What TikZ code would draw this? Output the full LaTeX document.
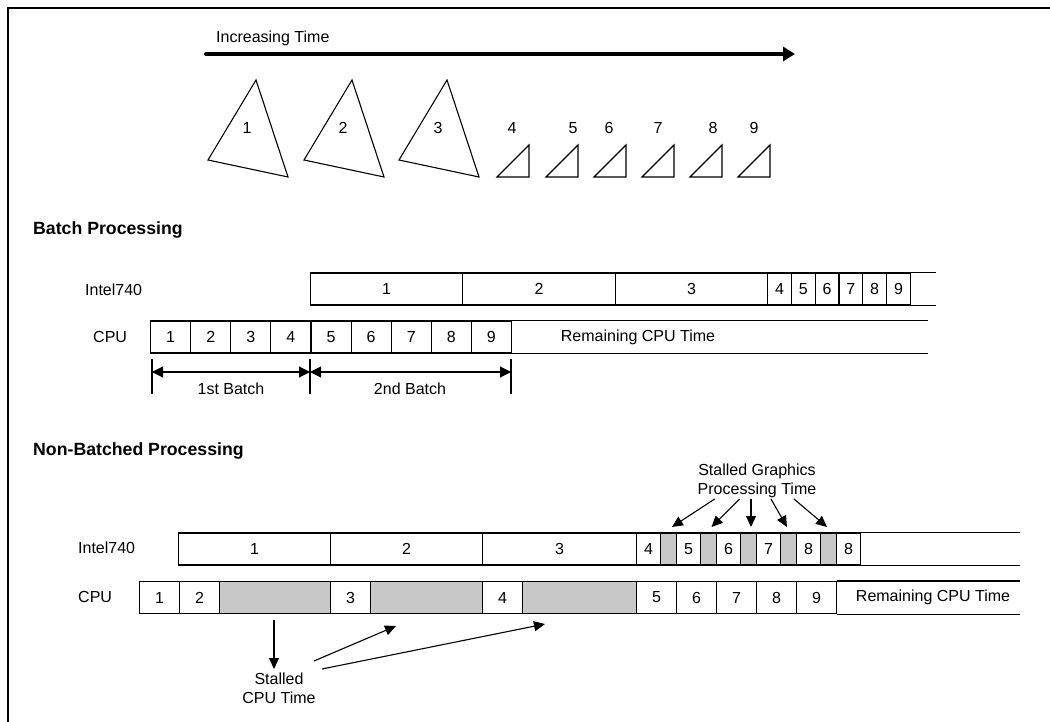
\documentclass[tikz,border=0pt]{standalone}
\usepackage{fontspec}
\setmainfont{Liberation Sans}
\usetikzlibrary{arrows.meta,calc}
\definecolor{stall}{RGB}{200,200,200}
\begin{document}
\begin{tikzpicture}[x=1pt,y=-1pt,
  reg/.style={font=\fontsize{16}{19}\selectfont, inner sep=0pt},
  hd/.style={font=\fontsize{17.7}{20}\selectfont\bfseries, inner sep=0pt, anchor=west},
  cell/.style={draw, line width=1.1pt, minimum height=32pt, inner sep=0pt, anchor=west, reg},
  gcell/.style={cell, fill=stall},
  lbl/.style={reg, anchor=west},
  tri/.style={draw, line width=1.1pt, line join=miter},
  tail/.style={draw, line width=1.1pt},
  arr/.style={line width=1.1pt, -{Triangle[length=11pt,width=10pt]}},
  darr/.style={line width=1.1pt, {Triangle[length=11pt,width=11pt]}-{Triangle[length=11pt,width=11pt]}},
  tick/.style={line width=1.1pt}]
\useasboundingbox (0,0) rectangle (1050,722);
% frame
\draw[line width=2pt] (8,730) -- (8,8) -- (1060,8);

% increasing time
\node[lbl] (itl) at (216,38) {Increasing Time};
\coordinate (ts) at (206,54);
\coordinate (te) at (795,54);
\draw[line width=4pt, line cap=round, -{Triangle[length=12pt,width=14pt]}] (ts) -- (te);

% big triangles
\foreach \s [count=\n] in {0,96,191} {
  \draw[tri] (256+\s,80) -- (208+\s,160) -- (288+\s,177) -- cycle;
  \node[reg] (tl\n) at (247+\s,128) {\n};
}
% small triangles
\foreach \r/\lx [count=\n from 4] in {529/512,578/573,626/609,674/658,722/713,770/754} {
  \draw[tri] (\r-32,177) -- (\r,145) -- (\r,177) -- cycle;
  \node[reg] (tl\n) at (\lx,128) {\n};
}

% ---------- Batch processing ----------
\node[hd] (bph) at (33,230) {Batch Processing};
\node[lbl] (bil) at (85,290) {Intel740};
\node[lbl] (bcl) at (93,337) {CPU};

\node[cell, minimum width=152pt] (bi1) at (310,289) {1};
\node[cell, minimum width=153pt] (bi2) at (462,289) {2};
\node[cell, minimum width=152pt] (bi3) at (615,289) {3};
\foreach \i [count=\k from 0] in {4,...,9}
  \node[cell, minimum width=23.8pt] (bi\i) at (767+23.8*\k,289) {\i};
\coordinate (biend) at (936,289);
\draw[tail] (bi9.north east) -- (biend |- bi9.north);
\draw[tail] (bi9.south east) -- (biend |- bi9.south);

\foreach \i in {1,...,9}
  \node[cell, minimum width=40.1pt] (bc\i) at (150+40.1*\i-40.1,337) {\i};
\coordinate (bcend) at (928,337);
\draw[tail] (bc9.north east) -- (bcend |- bc9.north);
\draw[tail] (bc9.south east) -- (bcend |- bc9.south);
\node[reg] (brem) at (638,337) {Remaining CPU Time};

% batch brackets
\coordinate (k1t) at (152,359); \coordinate (k1b) at (152,394);
\coordinate (k2t) at (310,359); \coordinate (k2b) at (310,394);
\coordinate (k3t) at (511,359); \coordinate (k3b) at (511,394);
\draw[tick] (k1t) -- (k1b);
\draw[tick] (k2t) -- (k2b);
\draw[tick] (k3t) -- (k3b);
\coordinate (a1) at (152,372);
\coordinate (a2) at (310,372);
\coordinate (a3) at (511,372);
\draw[darr] (a1) -- (a2);
\draw[darr] (a2) -- (a3);
\node[reg] (b1lab) at (231,389) {1st Batch};
\node[reg] (b2lab) at (410,389) {2nd Batch};

% ---------- Non-batched processing ----------
\node[hd] (nbh) at (33,451) {Non-Batched Processing};
\node[lbl] (nil) at (78,548) {Intel740};
\node[lbl] (ncl) at (78,597) {CPU};

\node[cell, minimum width=152pt] (ni1) at (178,549) {1};
\node[cell, minimum width=152pt] (ni2) at (330,549) {2};
\node[cell, minimum width=154pt] (ni3) at (482,549) {3};
\foreach \t [count=\k from 0] in {4,5,6,7,8,8} {
  \node[cell, minimum width=24pt] (nw\k) at (636+40*\k,549) {\t};
}
\foreach \k in {0,...,4} {
  \node[gcell, minimum width=16pt] (ng\k) at (660+40*\k,549) {};
}
\coordinate (niend) at (1020,549);
\draw[tail] (nw5.north east) -- (niend |- nw5.north);
\draw[tail] (nw5.south east) -- (niend |- nw5.south);

\node[cell, minimum width=40pt] (nc1) at (139,597.5) {1};
\node[cell, minimum width=40pt] (nc2) at (179,597.5) {2};
\node[gcell, minimum width=111pt] (cg1) at (219,597.5) {};
\node[cell, minimum width=40pt] (nc3) at (330,597.5) {3};
\node[gcell, minimum width=112pt] (cg2) at (370,597.5) {};
\node[cell, minimum width=40pt] (nc4) at (482,597.5) {4};
\node[gcell, minimum width=114pt] (cg3) at (522,597.5) {};
\foreach \i [count=\k from 0] in {5,...,9}
  \node[cell, minimum width=40pt] (nc\i) at (636+40*\k,597.5) {\i};
\coordinate (ncend) at (1020,597.5);
\draw[tail] (nc9.north east) -- (ncend |- nc9.north);
\draw[tail] (nc9.south east) -- (ncend |- nc9.south);
\node[reg] (nrem) at (933,597.5) {Remaining CPU Time};

% stalled graphics
\node[reg, align=center] (sgl) at (757,480.5) {Stalled Graphics\\Processing Time};
\coordinate (gs1) at (714.7,499); \coordinate (ge1) at (671.9,527);
\coordinate (gs2) at (739.6,499); \coordinate (ge2) at (711.5,527);
\coordinate (gs3) at (751,499);   \coordinate (ge3) at (751,527);
\coordinate (gs4) at (771,499);   \coordinate (ge4) at (787,527);
\coordinate (gs5) at (794,499);   \coordinate (ge5) at (827,527);
\foreach \k in {1,...,5} \draw[arr] (gs\k) -- (ge\k);

% stalled CPU
\node[reg, align=center] (scl) at (279,688.5) {Stalled\\CPU Time};
\coordinate (cs1) at (274,620); \coordinate (ce1) at (274,669);
\coordinate (cs2) at (314,661); \coordinate (ce2) at (396,626);
\coordinate (cs3) at (322,669); \coordinate (ce3) at (545,624);
\foreach \k in {1,2,3} \draw[arr] (cs\k) -- (ce\k);
\end{tikzpicture}
\end{document}
